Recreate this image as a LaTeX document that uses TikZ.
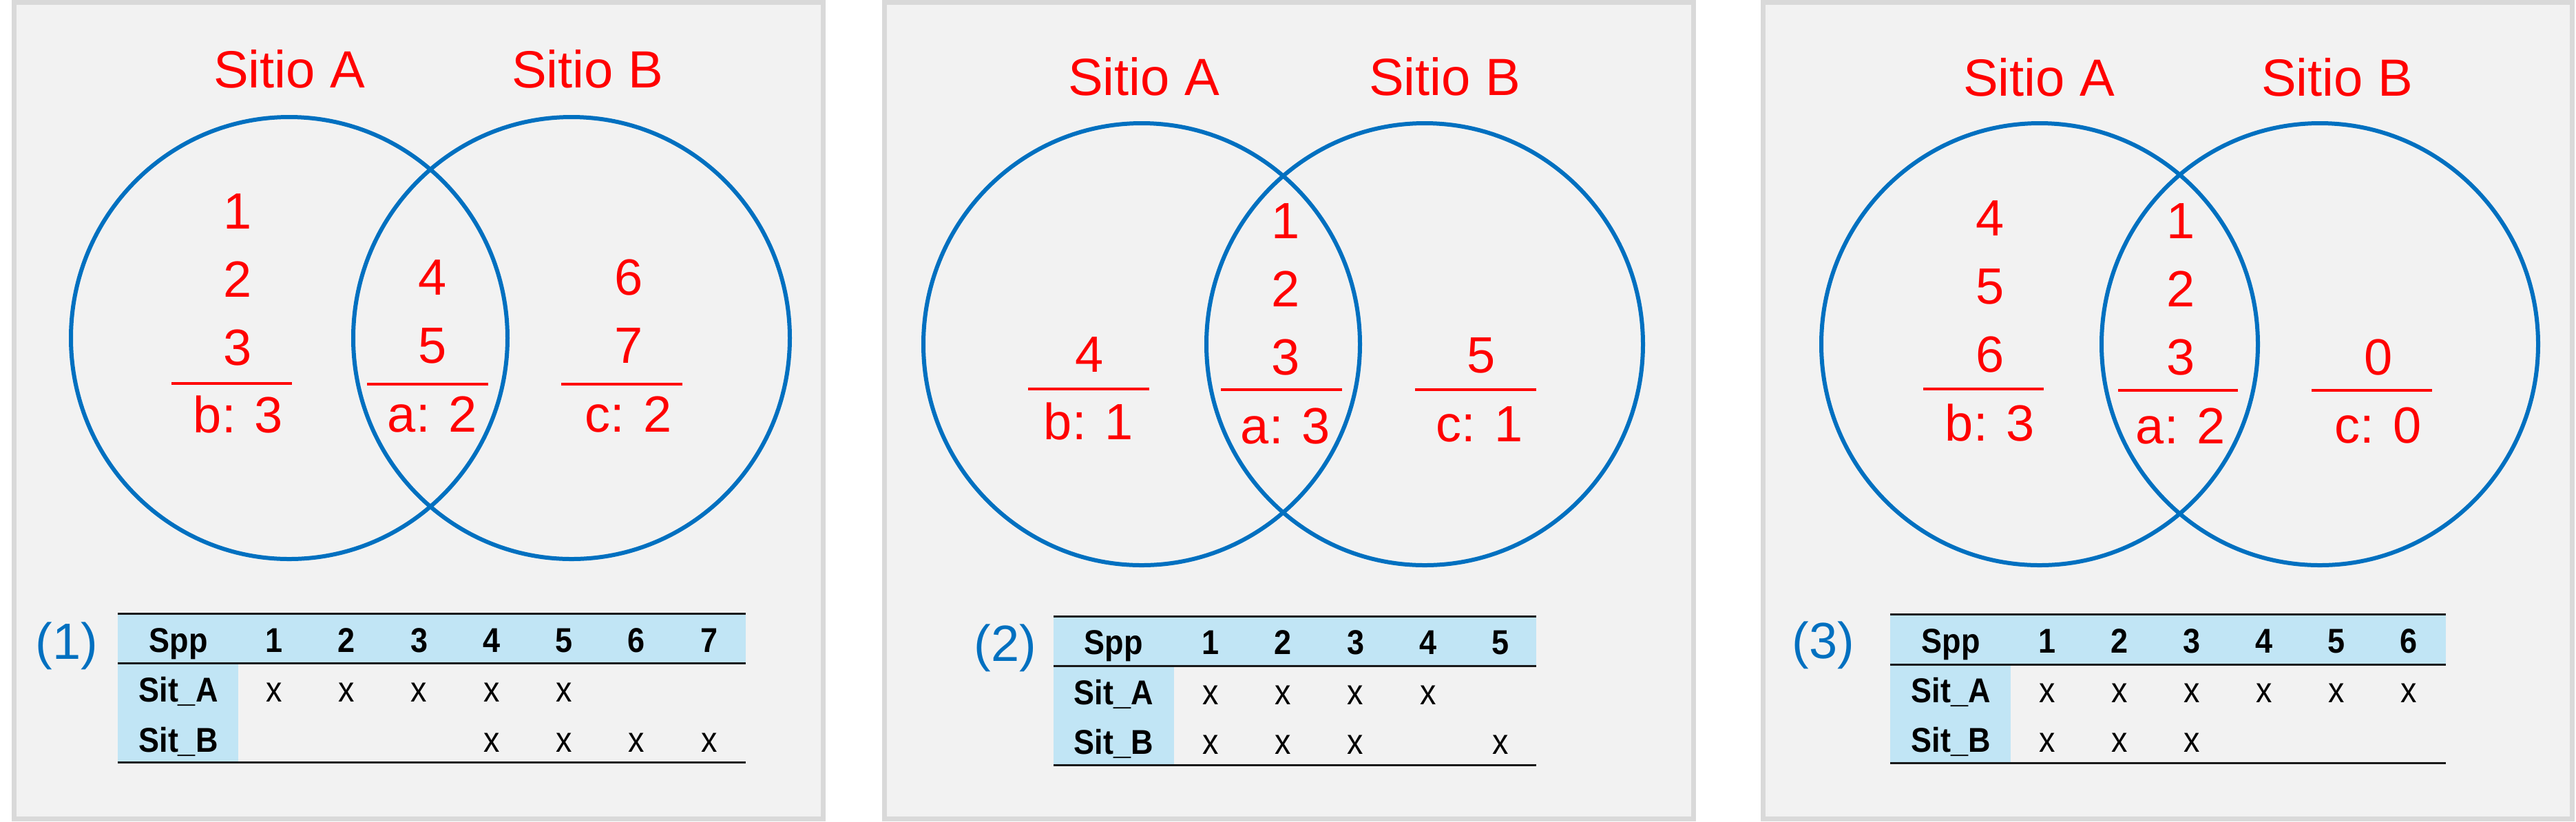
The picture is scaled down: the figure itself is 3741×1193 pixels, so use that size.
\documentclass[tikz,border=0pt]{standalone}
\usepackage{fontspec}
\setmainfont{Liberation Sans}
\newfontfamily\tabfont[FakeStretch=0.9]{Liberation Sans}
\definecolor{vblue}{HTML}{0070C0}
\definecolor{vred}{HTML}{FF0000}
\definecolor{pfill}{HTML}{F2F2F2}
\definecolor{pborder}{HTML}{D9D9D9}
\definecolor{hblue}{HTML}{C1E5F5}
\begin{document}
\begin{tikzpicture}[x=0.25pt,y=-0.25pt,
  panel/.style={draw=pborder,fill=pfill,line width=1.75pt},
  venn/.style={draw=vblue,line width=1.5pt},
  sepline/.style={draw=vred,line width=0.9pt},
  title/.style={text=vred,font=\fontsize{19}{22}\selectfont,inner sep=0,anchor=base},
  num/.style={text=vred,font=\fontsize{18.5}{22}\selectfont,inner sep=0,anchor=base},
  tag/.style={text=vblue,font=\fontsize{18.5}{22}\selectfont,inner sep=0,anchor=base},
  hdr/.style={font=\tabfont\bfseries\fontsize{12.5}{14}\selectfont,inner sep=0,anchor=base},
  cell/.style={font=\tabfont\fontsize{13}{15}\selectfont,inner sep=0,anchor=base},
  tabrule/.style={draw=black!90,line width=0.75pt}]
\useasboundingbox (0,0) rectangle (3741,1193);
\fill[white] (0,0) rectangle (3741,1193);

% ================= Panel 1 =================
\draw[panel] (20.5,3.5) rectangle (1195.5,1189.5);
\draw[venn] (420,491) ellipse [x radius=79.25pt, y radius=80.25pt];
\draw[venn] (830,491) ellipse [x radius=79.25pt, y radius=80.25pt];
\node[title] (p1tA) at (420,127) {Sitio A};
\node[title] (p1tB) at (853,127) {Sitio B};
% left
\node[num] (p1l1) at (345,332) {1};
\node[num] (p1l2) at (345,431) {2};
\node[num] (p1l3) at (345,530) {3};
\draw[sepline] (249,557) -- (424,557);
\node[num] (p1lb) at (346,628) {b: 3};
% middle
\node[num] (p1m4) at (628,428) {4};
\node[num] (p1m5) at (628,527) {5};
\draw[sepline] (533,558) -- (709,558);
\node[num] (p1ma) at (628,627) {a: 2};
% right
\node[num] (p1r6) at (913,428) {6};
\node[num] (p1r7) at (913,527) {7};
\draw[sepline] (815,558) -- (991,558);
\node[num] (p1rc) at (913,627) {c: 2};
% table
\fill[hblue] (171,891) rectangle (1083,963);
\fill[hblue] (171,963) rectangle (346,1107);
\draw[tabrule] (171,891) -- (1083,891);
\draw[tabrule] (171,963) -- (1083,963);
\draw[tabrule] (171,1107) -- (1083,1107);
\node[tag] (p1tag) at (97,957) {(1)};
\node[hdr] (p1spp) at (259,947) {Spp};
\node[hdr] (p1sa) at (259,1019) {Sit\_A};
\node[hdr] (p1sb) at (259,1092) {Sit\_B};
\foreach \k in {1,...,7} {\node[hdr] (p1h\k) at ({398+105.3*(\k-1)},947) {\k};}
\foreach \k in {1,...,5} {\node[cell] (p1a\k) at ({398+105.3*(\k-1)},1019) {x};}
\foreach \k in {4,...,7} {\node[cell] (p1b\k) at ({398+105.3*(\k-1)},1092) {x};}

% ================= Panel 2 =================
\draw[panel] (1284.5,3.5) rectangle (2459.5,1189.5);
\draw[venn] (1658,500) ellipse [x radius=79.25pt, y radius=80.25pt];
\draw[venn] (2069,500) ellipse [x radius=79.25pt, y radius=80.25pt];
\node[title] (p2tA) at (1661,138) {Sitio A};
\node[title] (p2tB) at (2098,138) {Sitio B};
% left
\node[num] (p2l4) at (1582,540) {4};
\draw[sepline] (1493,565) -- (1669,565);
\node[num] (p2lb) at (1581,638) {b: 1};
% middle
\node[num] (p2m1) at (1867,346) {1};
\node[num] (p2m2) at (1867,445) {2};
\node[num] (p2m3) at (1867,544) {3};
\draw[sepline] (1773,566) -- (1949,566);
\node[num] (p2ma) at (1867,644) {a: 3};
% right
\node[num] (p2r5) at (2151,541) {5};
\draw[sepline] (2055,566) -- (2231,566);
\node[num] (p2rc) at (2149,641) {c: 1};
% table
\fill[hblue] (1530,895) rectangle (2231,967);
\fill[hblue] (1530,967) rectangle (1705,1111);
\draw[tabrule] (1530,895) -- (2231,895);
\draw[tabrule] (1530,967) -- (2231,967);
\draw[tabrule] (1530,1111) -- (2231,1111);
\node[tag] (p2tag) at (1460,960) {(2)};
\node[hdr] (p2spp) at (1617,950) {Spp};
\node[hdr] (p2sa) at (1617,1023) {Sit\_A};
\node[hdr] (p2sb) at (1617,1095) {Sit\_B};
\foreach \k in {1,...,5} {\node[hdr] (p2h\k) at ({1758+105.3*(\k-1)},950) {\k};}
\foreach \k in {1,...,4} {\node[cell] (p2a\k) at ({1758+105.3*(\k-1)},1023) {x};}
\foreach \k in {1,2,3,5} {\node[cell] (p2b\k) at ({1758+105.3*(\k-1)},1095) {x};}

% ================= Panel 3 =================
\draw[panel] (2560.5,3.5) rectangle (3735.5,1189.5);
\draw[venn] (2962,500) ellipse [x radius=79.25pt, y radius=80.25pt];
\draw[venn] (3369,500) ellipse [x radius=79.25pt, y radius=80.25pt];
\node[title] (p3tA) at (2961,139) {Sitio A};
\node[title] (p3tB) at (3394,139) {Sitio B};
% left
\node[num] (p3l4) at (2890,342) {4};
\node[num] (p3l5) at (2890,441) {5};
\node[num] (p3l6) at (2890,540) {6};
\draw[sepline] (2793,565) -- (2968,565);
\node[num] (p3lb) at (2890,640) {b: 3};
% middle
\node[num] (p3m1) at (3167,346) {1};
\node[num] (p3m2) at (3167,445) {2};
\node[num] (p3m3) at (3167,544) {3};
\draw[sepline] (3076,567) -- (3250,567);
\node[num] (p3ma) at (3167,644) {a: 2};
% right
\node[num] (p3r0) at (3454,544) {0};
\draw[sepline] (3357,567) -- (3532,567);
\node[num] (p3rc) at (3454,643) {c: 0};
% table
\fill[hblue] (2745,892) rectangle (3552,965);
\fill[hblue] (2745,965) rectangle (2920,1108);
\draw[tabrule] (2745,892) -- (3552,892);
\draw[tabrule] (2745,965) -- (3552,965);
\draw[tabrule] (2745,1108) -- (3552,1108);
\node[tag] (p3tag) at (2648,956) {(3)};
\node[hdr] (p3spp) at (2833,948) {Spp};
\node[hdr] (p3sa) at (2833,1020) {Sit\_A};
\node[hdr] (p3sb) at (2833,1092) {Sit\_B};
\foreach \k in {1,...,6} {\node[hdr] (p3h\k) at ({2973+105*(\k-1)},948) {\k};}
\foreach \k in {1,...,6} {\node[cell] (p3a\k) at ({2973+105*(\k-1)},1020) {x};}
\foreach \k in {1,2,3} {\node[cell] (p3b\k) at ({2973+105*(\k-1)},1092) {x};}
\end{tikzpicture}
\end{document}
